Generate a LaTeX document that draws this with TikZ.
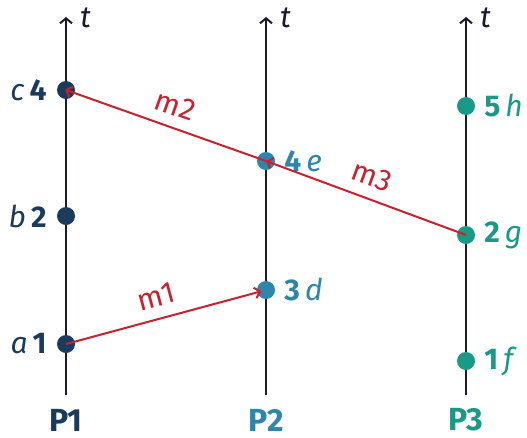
\documentclass[tikz,border=0pt]{standalone}
\usepackage{fontspec}
\setmainfont{Fira Sans}
\usetikzlibrary{arrows.meta}
\definecolor{pone}{HTML}{1B3A5C}
\definecolor{ptwo}{HTML}{2E86AB}
\definecolor{pthree}{HTML}{1A9A86}
\definecolor{msgc}{HTML}{C8202E}
\definecolor{axisc}{HTML}{1A1A2E}
\begin{document}
\begin{tikzpicture}[x=1pt,y=-1pt,
  axis/.style={draw=axisc, line width=2pt, -{Straight Barb[length=5pt,width=12pt,line width=2pt]}},
  ev/.style={circle, fill=#1, inner sep=0pt, minimum size=18pt},
  msg/.style={draw=msgc, line width=2pt, -{Straight Barb[length=5pt,width=11pt,line width=2pt]}},
  lbl/.style={font=\fontsize{30}{30}\selectfont, inner sep=0pt},
  mlbl/.style={font=\fontsize{30}{30}\selectfont, text=msgc, sloped, above=11pt, inner sep=0pt},
  plbl/.style={font=\fontsize{32}{32}\selectfont\bfseries, inner sep=0pt}]
\useasboundingbox (0,0) rectangle (527,437);
% axes
\coordinate (b1) at (66,395); \coordinate (t1) at (66,17);
\coordinate (b2) at (266,395); \coordinate (t2) at (266,17);
\coordinate (b3) at (466,395); \coordinate (t3) at (466,17);
\draw[axis] (b1) -- (t1);
\draw[axis] (b2) -- (t2);
\draw[axis] (b3) -- (t3);
\node[lbl, text=axisc, anchor=west] (tl1) at (80,18) {\textit{t}};
\node[lbl, text=axisc, anchor=west] (tl2) at (280,18) {\textit{t}};
\node[lbl, text=axisc, anchor=west] (tl3) at (480,18) {\textit{t}};
\node[plbl, text=pone] (P1) at (66,420) {P1};
\node[plbl, text=ptwo] (P2) at (266,420) {P2};
\node[plbl, text=pthree] (P3) at (466,420) {P3};
% events
\node[ev=pone] (a) at (66,344) {};
\node[ev=pone] (b) at (66,216) {};
\node[ev=pone] (c) at (66,90) {};
\node[ev=ptwo] (d) at (266,290) {};
\node[ev=ptwo] (e) at (266,161) {};
\node[ev=pthree] (f) at (466,361) {};
\node[ev=pthree] (g) at (466,235) {};
\node[ev=pthree] (h) at (466,106) {};
% event labels
\node[lbl, text=pone, anchor=east] (la) at ([xshift=-10pt]a.west) {\textit{a}\,\textbf{1}};
\node[lbl, text=pone, anchor=east] (lb) at ([xshift=-10pt]b.west) {\textit{b}\,\textbf{2}};
\node[lbl, text=pone, anchor=east] (lc) at ([xshift=-10pt]c.west) {\textit{c}\,\textbf{4}};
\node[lbl, text=ptwo, anchor=west] (ld) at ([xshift=9pt]d.east) {\textbf{3}\,\textit{d}};
\node[lbl, text=ptwo, anchor=west] (le) at ([xshift=9pt]e.east) {\textbf{4}\,\textit{e}};
\node[lbl, text=pthree, anchor=west] (lf) at ([xshift=9pt]f.east) {\textbf{1}\,\textit{f}};
\node[lbl, text=pthree, anchor=west] (lg) at ([xshift=9pt]g.east) {\textbf{2}\,\textit{g}};
\node[lbl, text=pthree, anchor=west] (lh) at ([xshift=9pt]h.east) {\textbf{5}\,\textit{h}};
% messages
\draw[msg, shorten >=5pt] (a.center) -- node[mlbl, pos=0.48] {m1} (d.center);
\draw[msg] (g.center) -- node[mlbl, pos=0.51] {m3} (e.center);
\draw[msg, shorten >=-1pt] (e.center) -- node[mlbl, pos=0.49] {m2} (c.center);
\end{tikzpicture}
\end{document}
